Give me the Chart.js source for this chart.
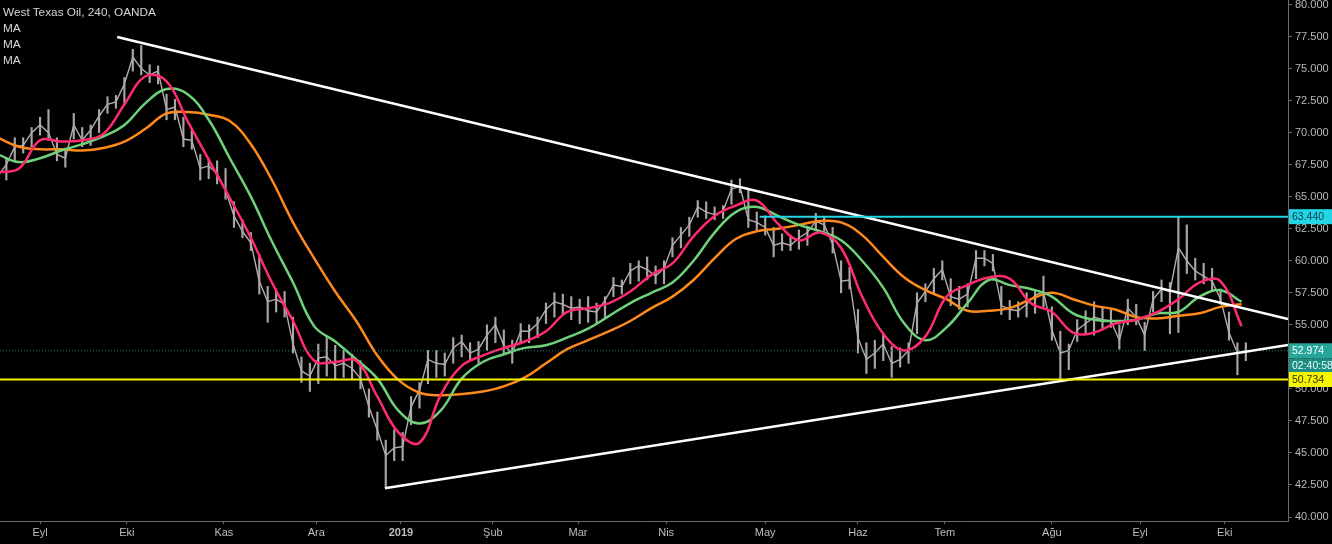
<!DOCTYPE html>
<html>
<head>
<meta charset="utf-8">
<script src="https://cdn.jsdelivr.net/npm/chart.js@4.4.0/dist/chart.umd.min.js"></script>
<style>
  html, body { margin: 0; padding: 0; background: #000; }
  #wrap { position: relative; width: 1332px; height: 544px; }
  #legend { position: absolute; left: 3px; top: 4px; font: 11.8px "Liberation Sans", Arial, sans-serif; color: #d6d6d6; line-height: 16px; }
</style>
</head>
<body>
<div id="wrap">
  <canvas id="chart" width="1332" height="544"></canvas>
  <div id="legend">
    <div>West Texas Oil, 240, OANDA</div>
    <div>MA</div>
    <div>MA</div>
    <div>MA</div>
  </div>
</div>
<script>
// price samples, one every 2 trading days (x = trading day index)
const priceLow = [
  66.0, 66.3, 67.8, 68.4, 68.9, 69.8, 69.4, 67.8, 67.3, 69.5,
  68.9, 69.0, 70.0, 71.5, 71.9, 72.2, 74.8, 74.5, 73.9, 73.8,
  71.0, 71.0, 68.9, 68.7, 66.3, 66.4, 66.0, 64.8, 62.6, 61.8,
  60.8, 57.4, 55.2, 56.0, 55.6, 52.8, 50.5, 49.8, 50.4, 51.0,
  50.7, 50.9, 50.7, 50.0, 47.8, 46.0, 42.3, 44.4, 44.4, 47.2,
  48.5, 50.4, 50.9, 51.0, 52.0, 52.5, 52.2, 52.0, 53.0, 53.6,
  52.8, 52.0, 53.6, 53.6, 54.0, 55.1, 55.6, 55.8, 55.4, 55.1,
  55.2, 55.1, 55.6, 57.2, 57.4, 58.2, 58.4, 58.5, 58.2, 58.2,
  60.3, 61.0, 61.9, 63.4, 63.3, 63.2, 63.3, 64.4, 65.3, 62.6,
  62.4, 62.0, 60.3, 60.8, 60.8, 60.9, 61.2, 62.4, 62.3, 60.6,
  57.5, 57.8, 52.8, 51.2, 51.6, 52.2, 50.9, 51.7, 52.0, 54.3,
  56.8, 57.5, 58.5, 56.5, 56.2, 56.4, 58.6, 59.6, 59.2, 55.8,
  55.4, 55.6, 55.6, 55.9, 56.4, 53.8, 50.7, 51.5, 53.7, 54.3,
  54.2, 54.6, 54.8, 53.1, 55.0, 55.0, 53.0, 56.0, 56.8, 54.3,
  54.4, 59.0, 58.5, 58.2, 57.7, 56.6, 53.8, 51.1, 52.2
];
const priceHigh = [
  67.4, 68.0, 69.6, 69.6, 70.4, 71.2, 71.8, 69.6, 68.8, 71.5,
  70.4, 70.6, 71.8, 72.8, 72.9, 74.3, 76.5, 76.8, 75.3, 75.2,
  73.0, 72.6, 71.2, 70.2, 68.3, 68.0, 67.8, 67.2, 64.6, 63.2,
  62.2, 60.5, 58.0, 57.8, 57.6, 55.6, 52.5, 52.0, 53.5, 54.0,
  53.4, 53.0, 52.7, 52.2, 50.0, 48.2, 46.0, 46.8, 46.6, 49.4,
  50.5, 53.0, 53.0, 52.8, 54.0, 54.2, 53.6, 53.7, 55.0, 55.6,
  54.6, 53.8, 55.1, 55.0, 55.6, 56.7, 57.5, 57.4, 57.2, 57.0,
  57.2, 56.7, 57.2, 58.7, 58.5, 59.8, 60.0, 60.3, 59.6, 60.0,
  61.8, 62.6, 63.4, 64.7, 64.6, 64.2, 64.3, 66.3, 66.4, 65.5,
  63.8, 63.5, 62.6, 62.1, 62.0, 62.4, 62.7, 63.7, 63.4, 62.6,
  60.0, 59.5, 56.2, 53.6, 53.8, 54.3, 53.3, 53.2, 53.6, 57.5,
  58.2, 59.4, 60.0, 58.6, 58.0, 58.2, 60.8, 60.8, 60.5, 58.0,
  56.9, 56.8, 57.5, 57.7, 58.8, 56.4, 54.5, 53.5, 55.4, 56.1,
  56.8, 56.4, 56.2, 55.0, 57.0, 56.6, 55.2, 57.6, 58.5, 58.3,
  63.4, 62.8, 60.2, 59.8, 59.4, 57.8, 56.0, 53.6, 53.6
];
const priceClose = [
  66.6, 67.5, 68.9, 69.0, 70.0, 70.6, 70.0, 68.3, 68.0, 70.6,
  69.4, 70.2, 71.3, 72.2, 72.4, 73.8, 75.9, 75.0, 74.5, 74.8,
  71.8, 72.0, 69.5, 69.4, 67.2, 67.4, 66.8, 65.5, 63.5, 62.3,
  61.4, 58.4, 56.8, 57.0, 56.6, 53.5, 51.4, 51.0, 52.4, 52.5,
  51.8, 52.0, 51.6, 50.8, 48.6, 46.8, 44.8, 45.4, 45.5, 48.6,
  49.9, 52.3, 52.0, 51.9, 53.2, 53.7, 52.8, 53.1, 54.2, 55.0,
  53.4, 52.8, 54.5, 54.5, 55.1, 56.2, 56.8, 56.6, 56.3, 56.4,
  56.1, 56.0, 56.9, 58.1, 58.0, 59.2, 59.6, 59.3, 58.8, 59.4,
  61.2, 62.0, 62.8, 64.2, 63.8, 63.6, 63.9, 65.6, 65.8, 63.2,
  63.0, 62.6, 61.2, 61.4, 61.2, 61.8, 62.2, 63.1, 62.8, 61.3,
  58.4, 58.5, 54.0, 52.3, 52.8, 53.5, 52.0, 52.3, 53.0, 56.7,
  57.6, 58.6, 59.3, 57.2, 57.0, 57.4, 60.2, 60.2, 59.8, 56.5,
  56.2, 56.1, 56.6, 57.3, 57.6, 54.6, 52.8, 53.0, 54.6, 55.1,
  55.6, 55.4, 55.3, 53.8, 56.3, 55.6, 54.2, 57.0, 57.8, 57.6,
  61.0, 60.0, 59.2, 58.8, 58.4, 57.0, 54.4, 52.8, 52.97
];

// moving averages, one value every 5 trading days
const maFast = [
  66.9, 67.2, 69.4, 69.3, 69.4, 69.9, 72.2, 74.4, 74.0, 70.9,
  67.9, 64.9, 61.8, 58.3, 55.3, 52.2, 52.1, 52.2, 49.4, 46.6,
  45.8, 49.5, 51.8, 52.6, 53.2, 53.7, 54.5, 56.0, 56.3, 56.7,
  57.6, 58.9, 59.8, 61.9, 63.5, 64.3, 64.7, 62.9, 61.6, 62.2,
  61.0, 57.2, 54.3, 53.0, 54.1, 57.2, 58.1, 58.7, 58.6, 56.7,
  56.0, 54.4, 54.4, 55.1, 55.4, 56.0, 57.0, 58.3, 58.4, 54.9
];
const maMid = [
  68.3, 67.7, 68.0, 68.6, 69.1, 69.7, 70.6, 72.3, 73.4, 73.0,
  71.0, 68.0, 65.0, 61.5, 58.3, 54.9, 53.7, 52.3, 50.8, 48.3,
  47.3, 48.3, 50.8, 52.1, 52.7, 53.2, 53.4, 54.0, 54.7, 55.7,
  56.7, 57.5, 58.3, 60.0, 62.2, 63.8, 64.2, 63.5, 62.8, 62.3,
  61.6, 60.0, 57.9, 55.1, 53.8, 54.8, 56.7, 58.5, 58.1, 57.8,
  57.2, 55.9, 55.4, 55.3, 55.4, 55.9, 56.0, 57.2, 57.7, 56.8
];
const maSlow = [
  69.6, 68.9, 68.7, 68.7, 68.6, 68.8, 69.3, 70.3, 71.5, 71.6,
  71.4, 70.9, 69.1, 66.3, 63.0, 60.2, 57.6, 55.3, 52.6, 50.7,
  49.7, 49.5, 49.6, 49.8, 50.2, 50.9, 52.0, 53.1, 53.8, 54.5,
  55.3, 56.3, 57.2, 58.5, 60.2, 61.7, 62.3, 62.5, 62.8, 63.1,
  63.0, 62.0, 60.3, 58.7, 57.7, 57.0, 56.1, 56.1, 56.3, 57.0,
  57.5, 57.0, 56.5, 56.2, 55.6, 55.5, 55.7, 55.9, 56.4, 56.6
];

// month labels at trading day index
const monthTicks = [10, 30.6, 53.6, 75.5, 95.6, 117.4, 137.6, 158.5, 182, 204, 224.6, 250, 270.9, 291];
const monthLabels = ['Eyl', 'Eki', 'Kas', 'Ara', '2019', 'Şub', 'Mar', 'Nis', 'May', 'Haz', 'Tem', 'Ağu', 'Eyl', 'Eki'];
const priceTicks = [40, 42.5, 45, 47.5, 50, 52.5, 55, 57.5, 60, 62.5, 65, 67.5, 70, 72.5, 75, 77.5, 80];

// drawn lines (trading day index, price)
const trendTop = [[28.3, 77.46], [306, 55.45]];
const trendBottom = [[91.8, 42.25], [306, 53.42]];
const resistStart = 180.7;
const resistLevel = 63.44;
const supportLevel = 50.734;
const lastPrice = 52.974;
const countdown = '02:40:58';

const X_MIN = 0.5, X_MAX = 306;

const pts = (arr, step) => arr.map((v, i) => ({ x: i * step, y: v }));
const seg = (p) => p.map(q => ({ x: q[0], y: q[1] }));

const lineDs = (data, color, width, order, extra) => Object.assign({
  type: 'line', data: data, borderColor: color, borderWidth: width,
  pointRadius: 0, fill: false, order: order
}, extra || {});

// no extra room for half-cut edge labels, the chart runs to the top edge
const noPad = (s) => { s.paddingTop = 0; s.paddingBottom = 0; s.paddingLeft = 0; s.paddingRight = 0; };

// coloured price labels on the right scale
const priceBoxes = {
  id: 'priceBoxes',
  afterDraw(chart) {
    const c = chart.ctx;
    const y = chart.scales.y;
    const left = chart.chartArea.right + 1;
    const w = chart.width - left;
    c.save();
    c.font = '10.5px "Liberation Sans", Arial, sans-serif';
    c.textBaseline = 'middle';
    const box = (v, bg, fg, label, dy) => {
      const py = y.getPixelForValue(v) + (dy || 0);
      c.fillStyle = bg;
      c.fillRect(left, py - 7.5, w, 15);
      c.fillStyle = fg;
      c.fillText(label, left + 3, py + 0.5);
    };
    box(resistLevel, '#22d6e8', '#0b3b40', resistLevel.toFixed(3));
    box(lastPrice, '#26a69a', '#ffffff', lastPrice.toFixed(3));
    box(lastPrice, '#1d8c82', '#e8fffc', countdown, 15);
    box(supportLevel, '#f5f500', '#333300', supportLevel.toFixed(3));
    c.restore();
  }
};

new Chart(document.getElementById('chart'), {
  data: {
    datasets: [
      {
        type: 'bar',
        data: priceLow.map((lo, i) => ({ x: i * 2, y: [lo, priceHigh[i]] })),
        backgroundColor: '#aaa4a4',
        barThickness: 1.5,
        order: 10
      },
      lineDs(pts(priceClose, 2), '#b3adad', 1.4, 9),
      lineDs(pts(maSlow, 5), '#ff8a1c', 2.5, 6, { tension: 0.4 }),
      lineDs(pts(maMid, 5), '#6fd27a', 2.5, 5, { tension: 0.4 }),
      lineDs(pts(maFast, 5), '#ff2b6e', 2.5, 4, { tension: 0.4 }),
      lineDs(seg(trendTop), '#ffffff', 2.5, 2),
      lineDs(seg(trendBottom), '#ffffff', 2.5, 2),
      lineDs([{ x: X_MIN, y: lastPrice }, { x: X_MAX, y: lastPrice }], '#1f7a70', 1, 3, { borderDash: [1, 2] }),
      lineDs([{ x: resistStart, y: resistLevel }, { x: X_MAX, y: resistLevel }], '#22d6e8', 2, 1),
      lineDs([{ x: X_MIN, y: supportLevel }, { x: X_MAX, y: supportLevel }], '#f5f500', 2, 1)
    ]
  },
  options: {
    responsive: false,
    animation: false,
    events: [],
    layout: { padding: 0 },
    plugins: { legend: { display: false }, tooltip: { enabled: false } },
    scales: {
      x: {
        type: 'linear',
        min: X_MIN,
        max: X_MAX,
        offset: false,
        afterBuildTicks: (s) => { s.ticks = monthTicks.map(v => ({ value: v })); },
        afterFit: (s) => { s.height = 23; noPad(s); },
        grid: { display: true, offset: false, drawOnChartArea: false, drawTicks: true, tickLength: 3, color: '#6a6a6a' },
        border: { display: true, color: '#6a6a6a', width: 1 },
        ticks: {
          autoSkip: false,
          maxRotation: 0,
          padding: 2,
          color: '#bdbdbd',
          font: (ctx) => ({ family: '"Liberation Sans Narrow", "Liberation Sans", Arial, sans-serif', size: 11, weight: ctx.index === 4 ? 'bold' : 'normal' }),
          callback: (v, i) => monthLabels[i]
        }
      },
      y: {
        type: 'linear',
        position: 'right',
        min: 39.69,
        max: 80.35,
        afterBuildTicks: (s) => { s.ticks = priceTicks.map(v => ({ value: v })); },
        afterFit: (s) => { s.width = 44; noPad(s); },
        grid: { display: true, drawOnChartArea: false, drawTicks: true, tickLength: 4, color: '#6a6a6a' },
        border: { display: true, color: '#6a6a6a', width: 1 },
        ticks: {
          padding: 3,
          color: '#b8b8b8',
          font: { family: '"Liberation Sans", Arial, sans-serif', size: 11 },
          callback: (v) => Number(v).toFixed(3)
        }
      }
    }
  },
  plugins: [priceBoxes]
});
</script>
</body>
</html>
